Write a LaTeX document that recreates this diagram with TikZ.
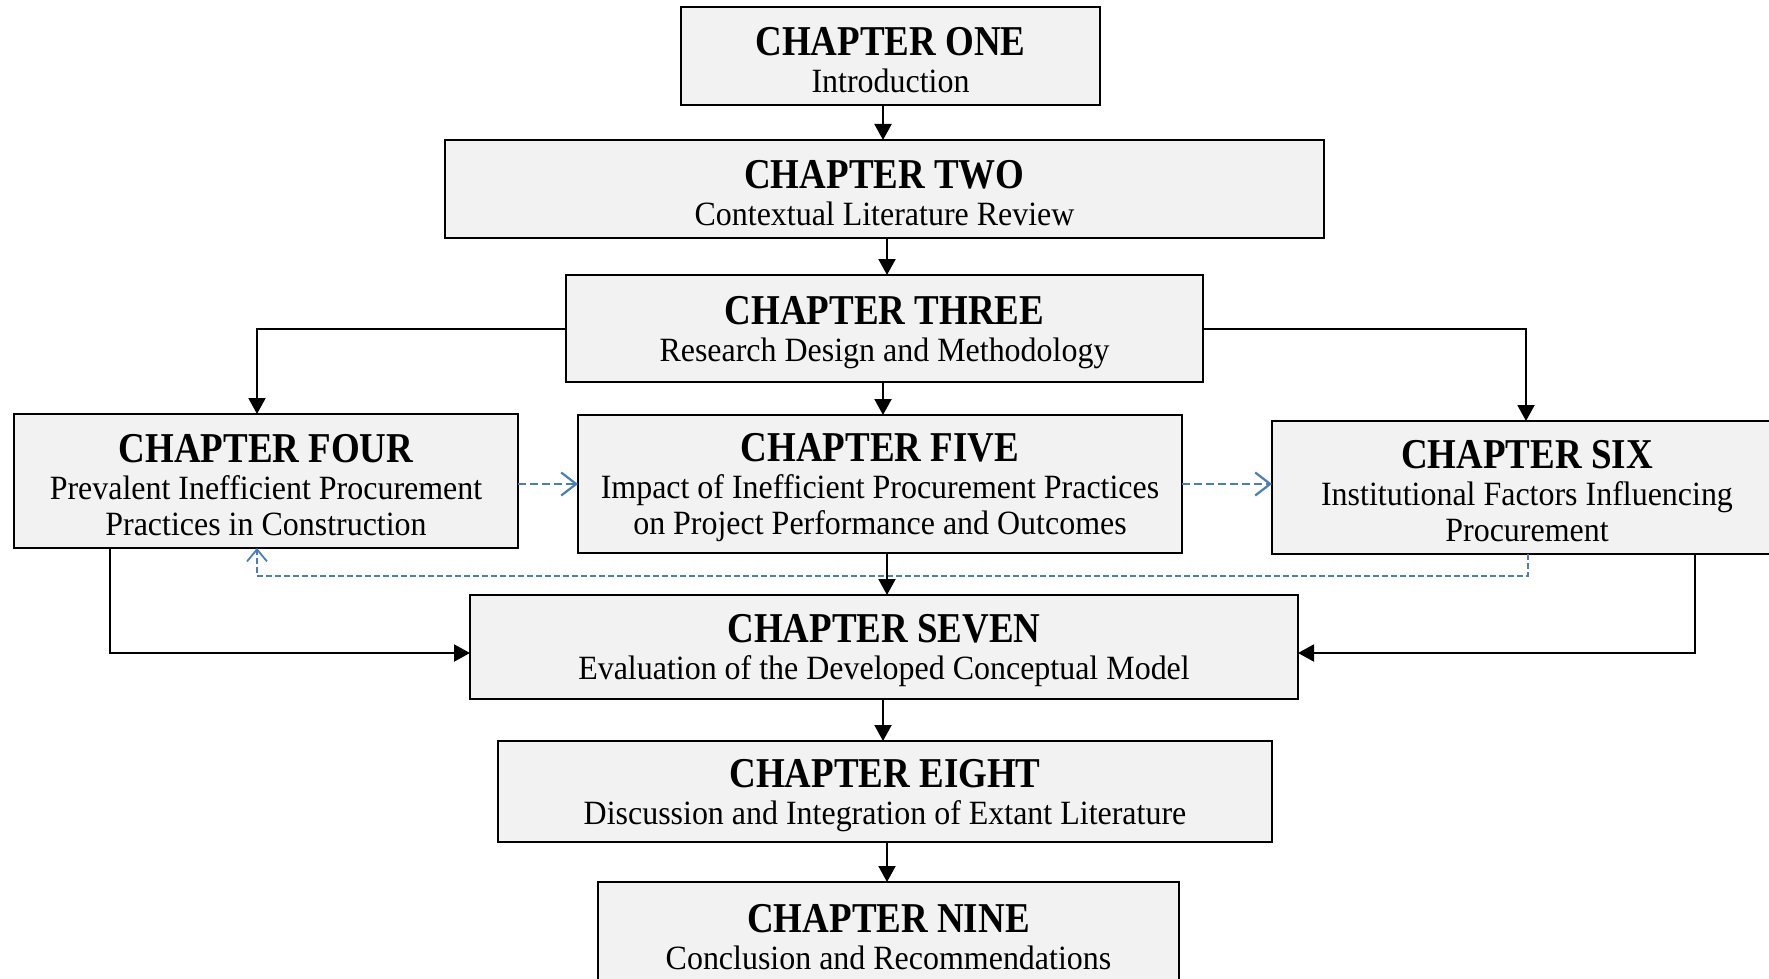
\documentclass[tikz,border=0pt]{standalone}
\usepackage{fontspec}
\setmainfont{Liberation Serif}[FakeStretch=0.94]
\newfontfamily\headfont{Liberation Serif}[FakeStretch=0.87]
\usetikzlibrary{arrows.meta}
\definecolor{boxfill}{HTML}{F2F2F2}
\definecolor{linkblue}{HTML}{4A7EBB}
% chapter heading line; the strut lowers the text block a little in its box
\newcommand\chhead[1]{{\headfont\bfseries\fontsize{42.5}{36}\selectfont\rule{0pt}{36pt}#1}}

\begin{document}
\begin{tikzpicture}[x=1pt,y=-1pt,
  chap/.style={draw=black, line width=2pt, fill=boxfill, inner sep=0pt,
    outer sep=0pt, align=center, font=\fontsize{34}{36}\selectfont},
  flow/.style={line width=2pt, -{Triangle[length=16pt,width=17pt]}},
  link/.style={draw=linkblue, line width=2.2pt, dash pattern=on 8pt off 4pt,
    -{Straight Barb[length=15pt,width=23pt,line width=2.2pt]}},
  backlink/.style={draw=linkblue, line width=1.5pt, dash pattern=on 6pt off 3pt,
    -{Straight Barb[length=12pt,width=20pt,line width=1.8pt]}}]
\useasboundingbox (0,0) rectangle (1769,979);
\clip (0,0) rectangle (1769,979);

% chapter boxes
\node[chap, minimum width=419, minimum height=98]  (c1) at (890.5,56)   {\chhead{CHAPTER ONE}\\[1pt]Introduction};
\node[chap, minimum width=879, minimum height=98]  (c2) at (884.5,189)  {\chhead{CHAPTER TWO}\\[1pt]Contextual Literature Review};
\node[chap, minimum width=637, minimum height=107] (c3) at (884.5,328.5){\chhead{CHAPTER THREE}\\[1pt]Research Design and Methodology};
\node[chap, minimum width=504, minimum height=134] (c4) at (266,481)    {\chhead{CHAPTER FOUR}\\[1pt]Prevalent Inefficient Procurement\\Practices in Construction};
\node[chap, minimum width=604, minimum height=138] (c5) at (880,484)    {\chhead{CHAPTER FIVE}\\[1pt]Impact of Inefficient Procurement Practices\\on Project Performance and Outcomes};
\node[chap, minimum width=510, minimum height=133] (c6) at (1527,487.5) {\chhead{CHAPTER SIX}\\[1pt]Institutional Factors Influencing\\Procurement};
\node[chap, minimum width=828, minimum height=104] (c7) at (884,647)    {\chhead{CHAPTER SEVEN}\\[1pt]Evaluation of the Developed Conceptual Model};
\node[chap, minimum width=774, minimum height=101] (c8) at (885,791.5)  {\chhead{CHAPTER EIGHT}\\[1pt]Discussion and Integration of Extant Literature};
\node[chap, minimum width=581, minimum height=102] (c9) at (888.5,933)  {\chhead{CHAPTER NINE}\\[1pt]Conclusion and Recommendations};

% guide positions for connector bends
\coordinate (ax) at (883,0);
\coordinate (bx) at (887,0);
\coordinate (l4) at (257,0);
\coordinate (r6) at (1526,0);
\coordinate (d6) at (1528,0);
\coordinate (d4) at (110,0);
\coordinate (e6) at (1695,0);
\coordinate (yl) at (0,576);
\coordinate (y7) at (0,653);
\coordinate (yd) at (0,484);

% feedback loop from chapter six back to chapter four
\draw[backlink] (c6.south -| d6) -- (d6 |- yl) -- (l4 |- yl) -- (c4.south -| l4);

% main flow
\draw[flow] (c1.south -| ax) -- (c2.north -| ax);
\draw[flow] (c2.south -| bx) -- (c3.north -| bx);
\draw[flow] (c3.south -| ax) -- (c5.north -| ax);
\draw[flow] (c3.west) -| (c4.north -| l4);
\draw[flow] (c3.east) -| (c6.north -| r6);
\draw[flow] (c5.south -| bx) -- (c7.north -| bx);
\draw[flow] (c4.south -| d4) |- (c7.west |- y7);
\draw[flow] (c6.south -| e6) |- (c7.east |- y7);
\draw[flow] (c7.south -| ax) -- (c8.north -| ax);
\draw[flow] (c8.south -| bx) -- (c9.north -| bx);

% links between the parallel chapters
\draw[link] (c4.east |- yd) -- (c5.west |- yd);
\draw[link] (c5.east |- yd) -- (c6.west |- yd);
\end{tikzpicture}
\end{document}
